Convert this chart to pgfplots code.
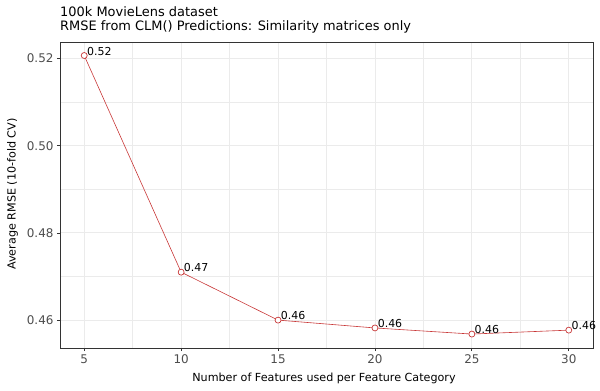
\documentclass[border=0pt]{standalone}
\usepackage{pgfplots}
\pgfplotsset{compat=1.18}
\usepackage{fontspec}
\setmainfont{DejaVu Sans}
\definecolor{ln}{RGB}{200,55,55}
\definecolor{gridc}{RGB}{235,235,235}
\definecolor{tk}{RGB}{77,77,77}
\definecolor{bd}{RGB}{51,51,51}
\begin{document}
\begin{tikzpicture}[x=1bp,y=1bp]
\useasboundingbox (-60,-42) rectangle (540,348);
\begin{axis}[at={(0,0)}, anchor=south west, scale only axis,
  width=533bp, height=306bp,
  xmin=3.75, xmax=31.25, ymin=0.4536, ymax=0.5238,
  xtick={5,10,15,20,25,30}, ytick={0.46,0.48,0.50,0.52},
  minor xtick={7.5,12.5,17.5,22.5,27.5}, minor ytick={0.47,0.49,0.51},
  xtick pos=bottom, ytick pos=left,
  grid=both,
  major grid style={gridc, line width=0.9bp},
  minor grid style={gridc, line width=0.45bp},
  axis line style={bd, line width=0.8bp},
  tick style={bd, line width=0.8bp}, tick align=outside,
  major tick length=3bp, minor tick length=0bp,
  /pgf/number format/assume math mode=true,
  yticklabel style={/pgf/number format/fixed, /pgf/number format/fixed zerofill, /pgf/number format/precision=2},
  ticklabel style={font=\fontsize{12}{12}\selectfont, text=tk},
  scaled y ticks=false,
  clip=false,
]
\addplot[ln, line width=0.6bp, mark=*, mark size=3bp,
  mark options={fill=white, draw=ln, line width=0.7bp},
  nodes near coords, point meta=explicit symbolic,
  every node near coord/.style={anchor=south west, inner sep=0bp, xshift=2.5bp, yshift=0bp, font=\fontsize{11}{11}\selectfont, text=black}]
  table[meta=lab] {
x y lab
5 0.5207 0.52
10 0.4710 0.47
15 0.4600 0.46
20 0.4582 0.46
25 0.4568 0.46
30 0.4577 0.46
};
\end{axis}
\node[anchor=base west, inner sep=0] at (0,332) {\fontsize{13}{13}\selectfont 100k MovieLens dataset};
\node[anchor=base west, inner sep=0] at (0,318) {\fontsize{13}{13}\selectfont RMSE from CLM() Predictions: Similarity matrices only};
\node[anchor=base, inner sep=0] at (264,-33) {\fontsize{11.2}{11.2}\selectfont Number of Features used per Feature Category};
\node[rotate=90, inner sep=0] at (-47.5,154) {\fontsize{11.2}{11.2}\selectfont Average RMSE (10-fold CV)};
\end{tikzpicture}
\end{document}
